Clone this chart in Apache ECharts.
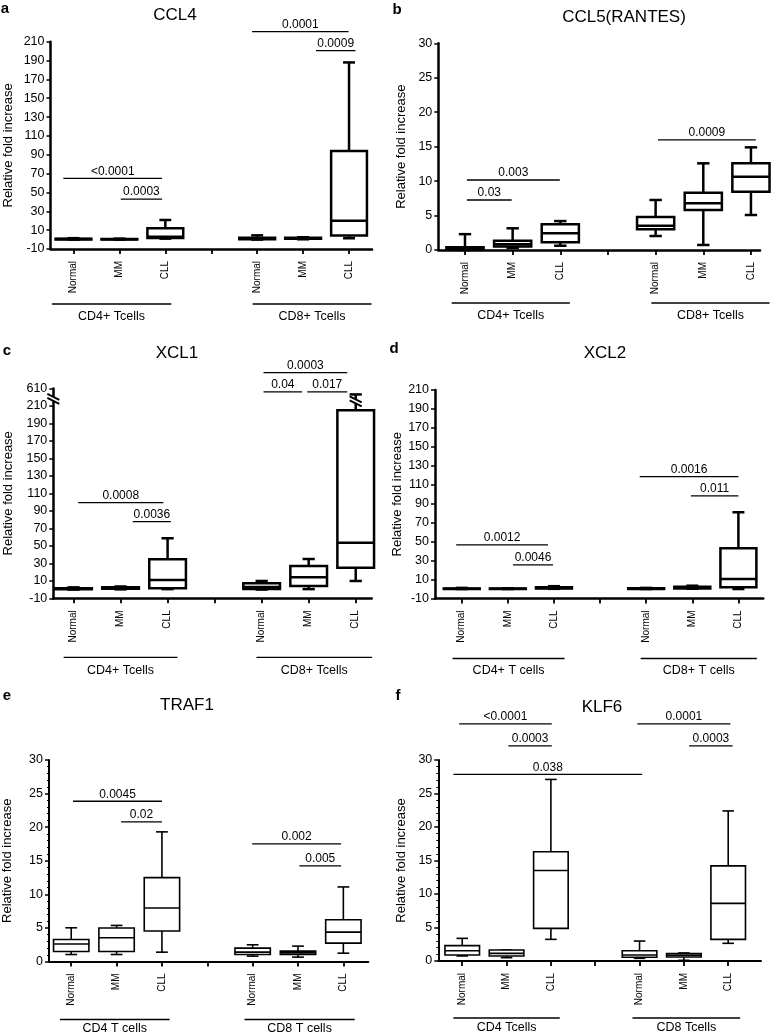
<!DOCTYPE html>
<html>
<head>
<meta charset="utf-8">
<script src="https://cdn.jsdelivr.net/npm/echarts@6/dist/echarts.min.js"></script>
<style>
  html, body { margin: 0; padding: 0; background: #fff; }
  #chart { width: 771px; height: 1036px; }
</style>
</head>
<body>
<div id="chart"></div>
<script>
var FONT = "'Liberation Sans', Arial, Helvetica, sans-serif";

// x slots: Normal, MM, CLL (CD4) | gap | Normal, MM, CLL (CD8)
var groups = ['Normal', 'MM', 'CLL'];
var slotLabels = groups.concat([''], groups);
var slotPos = [0, 1, 2, 4, 5, 6];

// box stats: [min, q1, median, q3, max]
var ccl4Boxes = [
  [0, 0.2, 0.5, 0.9, 1.5],
  [0, 0.2, 0.4, 0.7, 1.0],
  [1.0, 1.6, 3.0, 12.0, 20.8],
  [0, 0.3, 1.0, 2.0, 4.5],
  [0.3, 0.8, 1.2, 2.0, 2.5],
  [1.4, 4.2, 20.0, 94.0, 188.0]
];
var ccl4Sig = [[-0.22, 1.93, 65], [1.03, 1.93, 43], [3.89, 5.99, 220.6], [5.28, 6.14, 200.5]];
var ccl4SigText = ['<0.0001', '0.0003', '0.0001', '0.0009'];

var ccl5Boxes = [
  [0, 0.05, 0.15, 0.4, 2.3],
  [0.3, 0.5, 0.85, 1.35, 3.15],
  [0.62, 1.12, 2.42, 3.73, 4.2],
  [2.03, 3.0, 3.53, 4.79, 7.26],
  [0.73, 5.8, 6.8, 8.3, 12.58],
  [5.08, 8.46, 10.64, 12.58, 14.9]
];
var ccl5Sig = [[0.04, 0.98, 7.26], [0.04, 1.99, 10.16], [4.05, 6.1, 15.97]];
var ccl5SigText = ['0.03', '0.003', '0.0009'];

var xcl1Boxes = [
  [0, 0.3, 0.8, 1.5, 2.5],
  [0.2, 0.8, 1.5, 2.5, 3.5],
  [0.5, 1.4, 10.9, 34.6, 58.6],
  [0, 0.5, 3.0, 7.1, 9.8],
  [0.5, 4.1, 14.0, 26.9, 34.9],
  [9.8, 25.0, 53.5, 205.0, 603.0]
];
var xcl1Sig = [[0.1, 1.91, 99.3], [1.26, 2.07, 77.6], [4.04, 5.82, 628], [4.04, 4.86, 606], [4.97, 5.82, 606]];
var xcl1SigText = ['0.0008', '0.0036', '0.0003', '0.04', '0.017'];
var xcl1Ticks = [-10, 10, 30, 50, 70, 90, 110, 130, 150, 170, 190, 210, 610];

var xcl2Boxes = [
  [0, 0.1, 0.3, 0.6, 1.2],
  [0, 0.1, 0.2, 0.5, 0.8],
  [0.2, 0.5, 1.2, 2.0, 3.0],
  [0, 0.1, 0.4, 0.8, 1.2],
  [0.3, 0.6, 1.5, 2.5, 3.5],
  [0, 2.0, 10.6, 43.0, 81.0]
];
var xcl2Sig = [[-0.12, 1.87, 46.5], [1.11, 1.98, 25.4], [3.86, 6.0, 118.6], [4.97, 6.0, 98.2]];
var xcl2SigText = ['0.0012', '0.0046', '0.0016', '0.011'];

var traf1Boxes = [
  [1.04, 1.49, 2.6, 3.28, 5.02],
  [1.04, 1.49, 3.53, 4.98, 5.37],
  [1.39, 4.53, 7.96, 12.49, 19.3],
  [0.8, 1.04, 1.39, 1.99, 2.49],
  [0.65, 1.04, 1.29, 1.54, 2.29],
  [1.24, 2.74, 4.38, 6.22, 11.1]
];
var traf1Sig = [[0.04, 2.0, 23.86], [1.1, 2.0, 20.8], [3.99, 5.95, 17.5], [5.03, 5.95, 14.25]];
var traf1SigText = ['0.0045', '0.02', '0.002', '0.005'];

var klf6Boxes = [
  [0.75, 0.9, 1.54, 2.29, 3.38],
  [0.5, 0.75, 1.14, 1.64, 1.64],
  [3.23, 4.87, 13.5, 16.3, 27.1],
  [0.4, 0.55, 0.9, 1.54, 2.98],
  [0.1, 0.6, 0.85, 1.1, 1.2],
  [2.64, 3.23, 8.6, 14.2, 22.4]
];
var klf6Sig = [[-0.2, 4.06, 27.85], [-0.07, 2.02, 35.4], [1.04, 2.02, 32.1], [3.95, 6.05, 35.4], [5.12, 6.1, 32.1]];
var klf6SigText = ['0.038', '<0.0001', '0.0003', '0.0001', '0.0003'];

var panels = [
  { letter: 'a', title: 'CCL4', pos: [5, 9], tpos: [175, 15], grid: [50.5, 41.7, 321.5, 207.3], x: [-0.5, 6.5],
    y: [-10, 210, 20], boxes: ccl4Boxes, sig: ccl4Sig, sigText: ccl4SigText, lw: 2.5, minor: false, nameGap: 36,
    cells: ['CD4+ Tcells', 'CD8+ Tcells'], spans: [[-0.47, 2.13], [3.9, 6.49]], off: [55, 68] },
  { letter: 'b', title: 'CCL5(RANTES)', pos: [397, 10], tpos: [624, 17], grid: [438.3, 43.3, 321.7, 206.7], x: [-0.56, 6.19],
    y: [0, 30, 5], boxes: ccl5Boxes, sig: ccl5Sig, sigText: ccl5SigText, lw: 2.5, minor: false, nameGap: 30,
    cells: ['CD4+ Tcells', 'CD8+ Tcells'], spans: [[-0.28, 2.2], [3.91, 6.39]], off: [53, 66] },
  { letter: 'c', title: 'XCL1', pos: [7, 351], tpos: [177, 353], grid: [53.3, 388.3, 318.4, 210], x: [-0.43, 6.34],
    y: [-10, 610, 20], boxes: xcl1Boxes, sig: xcl1Sig, sigText: xcl1SigText, lw: 2.5, minor: false, nameGap: 38,
    cells: ['CD4+ Tcells', 'CD8+ Tcells'], spans: [[-0.21, 2.21], [3.89, 6.35]], off: [59, 72],
    brk: { start: 220, end: 600, ticks: xcl1Ticks, marks: [[-0.43, 218], [6, 215]] } },
  { letter: 'd', title: 'XCL2', pos: [394, 349], tpos: [605, 353], grid: [435, 390, 328.3, 208.5], x: [-0.58, 6.54],
    y: [-10, 210, 20], boxes: xcl2Boxes, sig: xcl2Sig, sigText: xcl2SigText, lw: 2.5, minor: false, nameGap: 28,
    cells: ['CD4+ T cells', 'CD8+ T cells'], spans: [[-0.2, 2.23], [3.88, 6.4]], off: [60, 72.5] },
  { letter: 'e', title: 'TRAF1', pos: [7, 696], tpos: [187, 705], grid: [48.3, 760, 320, 201.5], x: [-0.49, 6.55],
    y: [0, 30, 5], boxes: traf1Boxes, sig: traf1Sig, sigText: traf1SigText, lw: 1.6, minor: true, nameGap: 35,
    cells: ['CD4 T cells', 'CD8 T cells'], spans: [[-0.25, 2.17], [3.82, 6.25]], off: [58, 67.5] },
  { letter: 'f', title: 'KLF6', pos: [398, 696], tpos: [602, 707], grid: [438.3, 760, 322.7, 201], x: [-0.54, 6.74],
    y: [0, 30, 5], boxes: klf6Boxes, sig: klf6Sig, sigText: klf6SigText, lw: 1.6, minor: true, nameGap: 30,
    cells: ['CD4 Tcells', 'CD8 Tcells'], spans: [[-0.2, 2.2], [3.84, 6.27]], off: [57, 67] }
];

var BOX_W = 0.78, CAP_W = 0.26;

function boxRenderer(p) {
  return function (params, api) {
    var x = api.value(0);
    var lo = api.coord([x - BOX_W / 2, api.value(2)]);
    var hi = api.coord([x + BOX_W / 2, api.value(4)]);
    var md = api.coord([x, api.value(3)]);
    var mn = api.coord([x, api.value(1)]);
    var mx = api.coord([x, api.value(5)]);
    var c0 = api.coord([x - CAP_W / 2, 0])[0];
    var c1 = api.coord([x + CAP_W / 2, 0])[0];
    var st = { stroke: '#000', lineWidth: p.lw };
    return {
      type: 'group',
      children: [
        { type: 'line', shape: { x1: mn[0], y1: mn[1], x2: mn[0], y2: lo[1] }, style: st },
        { type: 'line', shape: { x1: mx[0], y1: mx[1], x2: mx[0], y2: hi[1] }, style: st },
        { type: 'line', shape: { x1: c0, y1: mn[1], x2: c1, y2: mn[1] }, style: st },
        { type: 'line', shape: { x1: c0, y1: mx[1], x2: c1, y2: mx[1] }, style: st },
        { type: 'rect', shape: { x: lo[0], y: hi[1], width: hi[0] - lo[0], height: lo[1] - hi[1] },
          style: { fill: '#fff', stroke: '#000', lineWidth: p.lw } },
        { type: 'line', shape: { x1: lo[0], y1: md[1], x2: hi[0], y2: md[1] }, style: st }
      ]
    };
  };
}

function sigRenderer(p) {
  return function (params, api) {
    var a = api.coord([api.value(0), api.value(2)]);
    var b = api.coord([api.value(1), api.value(2)]);
    return {
      type: 'group',
      children: [
        { type: 'line', shape: { x1: a[0], y1: a[1], x2: b[0], y2: b[1] }, style: { stroke: '#000', lineWidth: 1.3 } },
        { type: 'text', x: (a[0] + b[0]) / 2, y: a[1] - 1,
          style: { text: p.sigText[params.dataIndex], fill: '#000', fontSize: 12, fontFamily: FONT, align: 'center', verticalAlign: 'bottom' } }
      ]
    };
  };
}

function cellRenderer(p) {
  return function (params, api) {
    var a = api.coord([api.value(0), api.value(2)]);
    var b = api.coord([api.value(1), api.value(2)]);
    return {
      type: 'group',
      children: [
        { type: 'line', shape: { x1: a[0], y1: a[1] + p.off[0], x2: b[0], y2: a[1] + p.off[0] }, style: { stroke: '#000', lineWidth: 1.3 } },
        { type: 'text', x: (a[0] + b[0]) / 2, y: a[1] + p.off[1],
          style: { text: p.cells[params.dataIndex], fill: '#000', fontSize: 12.5, fontFamily: FONT, align: 'center', verticalAlign: 'middle' } }
      ]
    };
  };
}

function breakRenderer(params, api) {
  var c = api.coord([api.value(0), api.value(1)]);
  var x = c[0], y = c[1];
  return {
    type: 'group',
    children: [
      { type: 'polygon', shape: { points: [[x - 6, y - 5], [x + 6, y + 1], [x + 6, y + 5], [x - 6, y - 1]] }, style: { fill: '#fff' } },
      { type: 'line', shape: { x1: x - 6, y1: y - 5, x2: x + 6, y2: y + 1 }, style: { stroke: '#000', lineWidth: 2 } },
      { type: 'line', shape: { x1: x - 6, y1: y - 1, x2: x + 6, y2: y + 5 }, style: { stroke: '#000', lineWidth: 2 } }
    ]
  };
}

var option = { animation: false, backgroundColor: '#fff', grid: [], xAxis: [], yAxis: [], series: [], graphic: [] };

panels.forEach(function (p, i) {
  option.grid.push({ left: p.grid[0], top: p.grid[1], width: p.grid[2], height: p.grid[3] });
  option.xAxis.push({
    type: 'value', gridIndex: i, min: p.x[0], max: p.x[1],
    splitLine: { show: false },
    axisLine: { show: true, onZero: false, lineStyle: { color: '#000', width: p.lw === 2.5 ? 2.5 : 2 } },
    axisTick: { show: true, customValues: [0, 1, 2, 3, 4, 5, 6], length: 5, lineStyle: { color: '#000', width: 1.8 } },
    axisLabel: {
      customValues: slotPos, rotate: 90, margin: 12, fontSize: 10, color: '#000', fontFamily: FONT,
      formatter: function (v) { return slotLabels[Math.round(v)]; }
    }
  });
  var ya = {
    type: 'value', gridIndex: i, min: p.y[0], max: p.y[1], interval: p.y[2],
    name: 'Relative fold increase', nameLocation: 'middle', nameGap: p.nameGap, nameRotate: 90,
    nameTextStyle: { fontSize: 13, color: '#000', fontFamily: FONT },
    splitLine: { show: false },
    axisLine: { show: true, onZero: false, lineStyle: { color: '#000', width: p.lw === 2.5 ? 2.5 : 2 } },
    axisTick: { show: true, length: 4, lineStyle: { color: '#000', width: 1.5 } },
    minorTick: { show: p.minor, splitNumber: 5, length: 2, lineStyle: { color: '#000', width: 1 } },
    axisLabel: { margin: 6, fontSize: 12.5, color: '#000', fontFamily: FONT }
  };
  if (p.brk) {
    ya.breaks = [{ start: p.brk.start, end: p.brk.end, gap: 0 }];
    ya.breakArea = { show: false };
    ya.axisTick.customValues = p.brk.ticks;
    ya.axisLabel.customValues = p.brk.ticks;
  }
  option.yAxis.push(ya);

  option.series.push({
    type: 'custom', xAxisIndex: i, yAxisIndex: i, silent: true, z: 3,
    data: p.boxes.map(function (b, k) { return [slotPos[k]].concat(b); }),
    encode: { x: 0, y: [1, 2, 3, 4, 5] },
    renderItem: boxRenderer(p)
  });
  option.series.push({
    type: 'custom', xAxisIndex: i, yAxisIndex: i, silent: true, z: 2,
    data: p.sig, encode: { x: [0, 1], y: 2 },
    renderItem: sigRenderer(p)
  });
  option.series.push({
    type: 'custom', xAxisIndex: i, yAxisIndex: i, silent: true, z: 2,
    data: p.spans.map(function (s) { return [s[0], s[1], p.y[0]]; }), encode: { x: [0, 1], y: 2 },
    renderItem: cellRenderer(p)
  });
  if (p.brk) {
    option.series.push({
      type: 'custom', xAxisIndex: i, yAxisIndex: i, silent: true, z: 10,
      data: p.brk.marks, encode: { x: 0, y: 1 },
      renderItem: breakRenderer
    });
  }

  option.graphic.push({
    type: 'text', x: p.tpos[0], y: p.tpos[1], z: 10,
    style: { text: p.title, fill: '#000', fontSize: 17, fontFamily: FONT, align: 'center', verticalAlign: 'middle' }
  });
  option.graphic.push({
    type: 'text', x: p.pos[0], y: p.pos[1], z: 10,
    style: { text: p.letter, fill: '#000', fontSize: 15, fontWeight: 'bold', fontFamily: FONT, align: 'center', verticalAlign: 'middle' }
  });
});

var myChart = echarts.init(document.getElementById('chart'), null, { renderer: 'canvas' });
myChart.setOption(option);
</script>
</body>
</html>
